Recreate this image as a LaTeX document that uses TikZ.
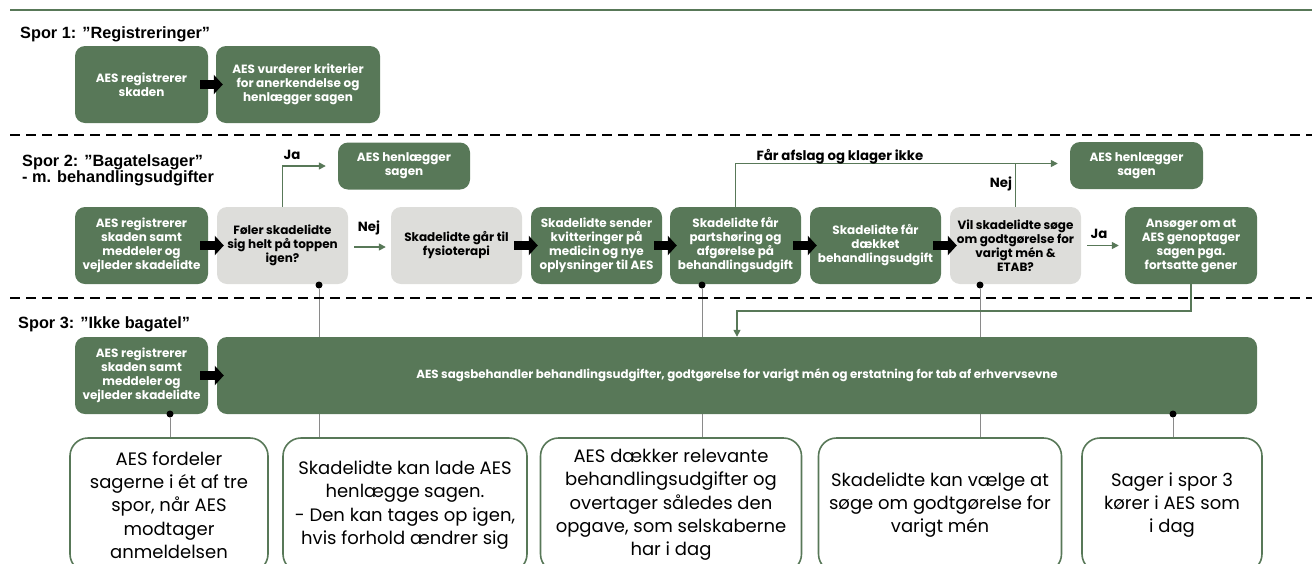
\documentclass[tikz,border=0pt]{standalone}
\usepackage{fontspec}
\setmainfont{Poppins}
\newfontfamily\headfont{Liberation Sans}
\usetikzlibrary{arrows.meta,backgrounds,calc}
\definecolor{aesgreen}{HTML}{587858}
\definecolor{aesgrey}{HTML}{DDDDDA}
\definecolor{thingrey}{HTML}{8A8A8A}
\begin{document}
\begin{tikzpicture}[x=1pt,y=-1pt,
  boxtext/.style={font=\fontsize{12}{14}\selectfont\bfseries, align=center, inner sep=0pt},
  gbox/.style={boxtext, fill=aesgreen, text=white, rounded corners=10pt, minimum height=77pt, minimum width=131pt},
  lbox/.style={boxtext, fill=aesgrey, text=black, rounded corners=10pt, minimum height=77pt, minimum width=131pt},
  hbox/.style={boxtext, fill=aesgreen, text=white, rounded corners=10pt, minimum height=47pt, minimum width=132pt},
  note/.style={draw=aesgreen, line width=1.6pt, fill=white, rounded corners=18pt, align=center, inner sep=0pt,
     minimum height=134pt, font=\fontsize{18}{23.3}\selectfont},
  head/.style={font=\headfont\fontsize{16.3}{17}\selectfont\bfseries, anchor=base west, inner sep=0pt},
  lab/.style={font=\fontsize{13.3}{15}\selectfont\bfseries, inner sep=0pt},
  fat/.style={line width=9pt, -{Triangle[length=9pt,width=19pt]}},
  garrow/.style={draw=aesgreen, line width=1.5pt, -{Triangle[length=7pt,width=7pt]}},
  gline/.style={draw=aesgreen, line width=1.5pt},
  tline/.style={draw=thingrey, line width=0.9pt},
  dot/.style={circle, fill=black, inner sep=0pt, minimum size=7pt},
  sep/.style={line width=2pt, dash pattern=on 10pt off 6pt}
]
\useasboundingbox (0,0) rectangle (1312,563);
\draw[aesgreen, line width=2pt] (10,10) -- (1312,10);
\draw[sep] (10,135) -- (1312,135);
\draw[sep] (10,298) -- (1312,298);

% headings
\node[head] (h1) at (20,38.5) {Spor 1: ”Registreringer”};
\node[head] (h2) at (22,166.5) {Spor 2: ”Bagatelsager”};
\node[head] (h2b) at (22,182) {- m. behandlingsudgifter};
\node[head] (h3) at (18,328) {Spor 3: ”Ikke bagatel”};

% row 1
\node[gbox, minimum width=133pt] (A1) at (141.5,84.5) {AES registrerer\\skaden};
\node[gbox, minimum width=164pt] (A2) at (298,84.5) {AES vurderer kriterier\\for anerkendelse og\\henlægger sagen};

% row 2
\node[gbox, minimum width=133pt] (B1) at (141.5,245.5) {AES registrerer\\skaden samt\\meddeler og\\vejleder skadelidte};
\node[lbox] (B2) at (282.5,245.5) {Føler skadelidte\\sig helt på toppen\\igen?};
\node[lbox] (B3) at (456.5,245.5) {Skadelidte går til\\fysioterapi};
\node[gbox] (B4) at (596.5,245.5) {Skadelidte sender\\kvitteringer på\\medicin og nye\\oplysninger til AES};
\node[gbox] (B5) at (735.5,245.5) {Skadelidte får\\partshøring og\\afgørelse på\\behandlingsudgift};
\node[gbox] (B6) at (875.5,245.5) {Skadelidte får\\dækket\\behandlingsudgift};
\node[lbox] (B7) at (1015.5,245.5) {Vil skadelidte søge\\om godtgørelse for\\varigt mén \&\\ETAB?};
\node[gbox, minimum width=132pt] (B8) at (1191,245.5) {Ansøger om at\\AES genoptager\\sagen pga.\\fortsatte gener};
\node[hbox] (H1) at (404,166) {AES henlægger\\sagen};
\node[hbox, minimum width=133pt] (H2) at (1136.5,165.5) {AES henlægger\\sagen};

% row 3
\node[gbox, minimum width=133pt, minimum height=77pt] (C1) at (141.5,375.5) {AES registrerer\\skaden samt\\meddeler og\\vejleder skadelidte};
\node[gbox, minimum width=1040pt, minimum height=77pt, font=\fontsize{11.8}{13}\selectfont\bfseries] (C2) at (737,375.5) {AES sagsbehandler behandlingsudgifter, godtgørelse for varigt mén og erstatning for tab af erhvervsevne};

% notes
\node[note, minimum width=198pt] (D1) at (169,505) {AES fordeler\\sagerne i ét af tre\\spor, når AES\\modtager\\anmeldelsen};
\node[note, minimum width=244pt] (D2) at (405,505) {Skadelidte kan lade AES\\henlægge sagen.\\- Den kan tages op igen,\\hvis forhold ændrer sig};
\node[note, minimum width=261pt] (D3) at (671,505) {AES dækker relevante\\behandlingsudgifter og\\overtager således den\\opgave, som selskaberne\\har i dag};
\node[note, minimum width=243pt] (D4) at (940,505) {Skadelidte kan vælge at\\søge om godtgørelse for\\varigt mén};
\node[note, minimum width=180pt] (D5) at (1172,505) {Sager i spor 3\\kører i AES som\\i dag};

% dots
\node[dot] (dB2) at (319,285) {};
\node[dot] (dB5) at (702,285) {};
\node[dot] (dB7) at (980,285) {};
\node[dot] (dC1) at (170,414) {};
\node[dot] (dC2) at (1173,414) {};

\begin{scope}[on background layer]
\draw[tline] (dB2) -- (dB2 |- D2.north);
\draw[tline] (dB5) -- (dB5 |- D3.north);
\draw[tline] (dB7) -- (dB7 |- D4.north);
\draw[tline] (dC1) -- (dC1 |- D1.north);
\draw[tline] (dC2) -- (dC2 |- D5.north);
\end{scope}

% fat arrows
\draw[fat] ([xshift=-8pt]A1.east) -- ([xshift=7pt]A2.west);
\draw[fat] ([xshift=-8pt]B1.east) -- ([xshift=7pt]B2.west);
\draw[fat] ([xshift=-8pt]B3.east) -- ([xshift=7pt]B4.west);
\draw[fat] ([xshift=-8pt]B4.east) -- ([xshift=7pt]B5.west);
\draw[fat] ([xshift=-8pt]B5.east) -- ([xshift=7pt]B6.west);
\draw[fat] ([xshift=-8pt]B6.east) -- ([xshift=7pt]B7.west);
\draw[fat] ([xshift=-8pt]C1.east) -- ([xshift=7pt]C2.west);

% green connectors
\coordinate (h1in) at ([xshift=-12pt]H1.west);
\coordinate (h2in) at ([xshift=-12pt,yshift=2pt]H2.west);
\draw[garrow] (B2.north) |- (h1in);
\draw[garrow] ([xshift=6pt,yshift=-1.5pt]B2.east) -- ([xshift=-5pt,yshift=-1.5pt]B3.west);
\draw[garrow] (B5.north) |- (h2in);
\draw[gline] (B7.north) -- (B7.north |- h2in);
\draw[garrow] ([xshift=6pt]B7.east) -- ([xshift=-6pt]B8.west);
\coordinate (turn) at ($(B8.south)+(0,27)$);
\draw[garrow] (B8.south) -- (turn) -| (C2.north);

% labels
\node[lab] (ja1) at (292,155) {Ja};
\node[lab] (nej1) at (369,228) {Nej};
\node[lab] (afs) at (840,157) {Får afslag og klager ikke};
\node[lab] (nej2) at (1001,184) {Nej};
\node[lab] (ja2) at (1099,234) {Ja};
\end{tikzpicture}
\end{document}
